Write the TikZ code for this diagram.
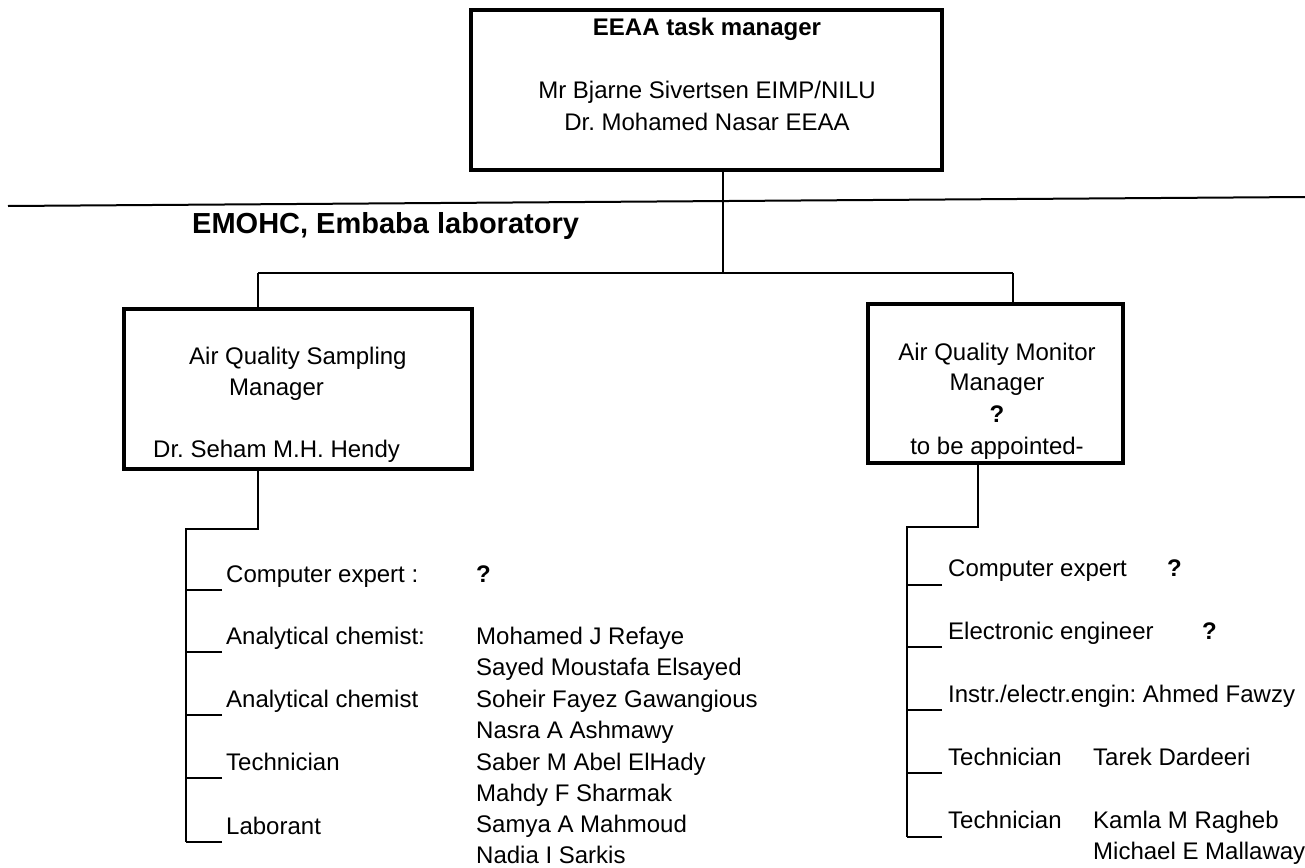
\documentclass[tikz,border=0pt]{standalone}
\usepackage{fontspec}
\setmainfont{Liberation Sans}
\frenchspacing
\begin{document}
\begin{tikzpicture}[x=1pt,y=-1pt,
  txt/.style={inner sep=0pt, anchor=base west, font=\fontsize{24}{29}\selectfont},
  ctxt/.style={inner sep=0pt, anchor=base, font=\fontsize{24}{29}\selectfont},
  qm/.style={txt, font=\fontsize{24}{29}\selectfont\bfseries},
  box/.style={draw, line width=4pt, inner sep=0pt},
  conn/.style={line width=2pt},
  tick/.style={line width=2pt}
]
\useasboundingbox (0,0) rectangle (1305,867);

% ---- top management box ----
\node[box, minimum width=471pt, minimum height=160pt] (top) at (706.5,90) {};
\node[ctxt, font=\fontsize{24}{29}\selectfont\bfseries] (t1) at (707,35.5) {EEAA task manager};
\node[ctxt] (t2) at (707,98) {Mr Bjarne Sivertsen EIMP/NILU};
\node[ctxt] (t3) at (707,130) {Dr. Mohamed Nasar EEAA};

% ---- divider and laboratory heading ----
\coordinate (divL) at (8,206);
\coordinate (divR) at (1305,197);
\draw[line width=2pt] (divL) -- (divR);
\node[txt, font=\fontsize{29}{35}\selectfont\bfseries] (lab) at (192,233.5) {EMOHC, Embaba laboratory};

% ---- branching bar ----
\coordinate (barM) at (723,273);
\coordinate (barL) at (258,273);
\coordinate (barR) at (1013,273);
\draw[conn] (barM |- top.south) -- (barM);
\draw[conn] (barL) -- (barR);

% ---- manager boxes ----
\node[box, minimum width=348pt, minimum height=160pt] (lbox) at (298,389) {};
\node[box, minimum width=255pt, minimum height=159pt] (rbox) at (995.5,383.5) {};
\draw[conn] (barL) -- (barL |- lbox.north);
\draw[conn] (barR) -- (barR |- rbox.north);

\node[txt] (l1) at (189,364.5) {Air Quality Sampling};
\node[txt] (l2) at (229,395.5) {Manager};
\node[txt] (l3) at (153,457.5) {Dr. Seham M.H. Hendy};

\node[ctxt] (r1) at (997,360.5) {Air Quality Monitor};
\node[ctxt] (r2) at (997,390.5) {Manager};
\node[ctxt, font=\fontsize{24}{29}\selectfont\bfseries] (r3) at (997,422.5) {?};
\node[ctxt] (r4) at (997,454.5) {to be appointed-};

% ---- left staff tree ----
\coordinate (ljog) at (258,529);
\coordinate (ltrunk) at (186,529);
\coordinate (lend) at (186,842);
\draw[conn] (ljog |- lbox.south) -- (ljog) -- (ltrunk) -- (lend);

\node[txt] (a1) at (226,582) {Computer expert :};
\node[txt] (a2) at (226,644) {Analytical chemist:};
\node[txt] (a3) at (226,707) {Analytical chemist};
\node[txt] (a4) at (226,770) {Technician};
\node[txt] (a5) at (226,834) {Laborant};
\foreach \n in {a1,a2,a3,a4,a5}
  \draw[tick] ([shift={(-4,8)}]\n.base west) -- +(-36,0);

\node[qm] (aq) at (476,582) {?};
\node[txt] (n1) at (476,644) {Mohamed J Refaye};
\node[txt] (n2) at (476,675.5) {Sayed Moustafa Elsayed};
\node[txt] (n3) at (476,707) {Soheir Fayez Gawangious};
\node[txt] (n4) at (476,738.5) {Nasra A Ashmawy};
\node[txt] (n5) at (476,770) {Saber M Abel ElHady};
\node[txt] (n6) at (476,801) {Mahdy F Sharmak};
\node[txt] (n7) at (476,832.5) {Samya A Mahmoud};
\node[txt] (n8) at (476,863) {Nadia I Sarkis};

% ---- right staff tree ----
\coordinate (rjog) at (978,527);
\coordinate (rtrunk) at (907,527);
\coordinate (rend) at (907,837);
\draw[conn] (rjog |- rbox.south) -- (rjog) -- (rtrunk) -- (rend);

\node[txt] (b1) at (948,576.5) {Computer expert};
\node[txt] (b2) at (948,639) {Electronic engineer};
\node[txt] (b3) at (948,702) {Instr./electr.engin: Ahmed Fawzy};
\node[txt] (b4) at (948,765) {Technician};
\node[txt] (b5) at (948,828.5) {Technician};
\foreach \n in {b1,b2,b3,b4,b5}
  \draw[tick] ([shift={(-6,8)}]\n.base west) -- +(-35,0);

\node[qm] (bq1) at (1167,576.5) {?};
\node[qm] (bq2) at (1202,639) {?};
\node[txt] (m1) at (1093,765) {Tarek Dardeeri};
\node[txt] (m2) at (1093,828.5) {Kamla M Ragheb};
\node[txt] (m3) at (1093,859) {Michael E Mallaway};
\end{tikzpicture}
\end{document}
